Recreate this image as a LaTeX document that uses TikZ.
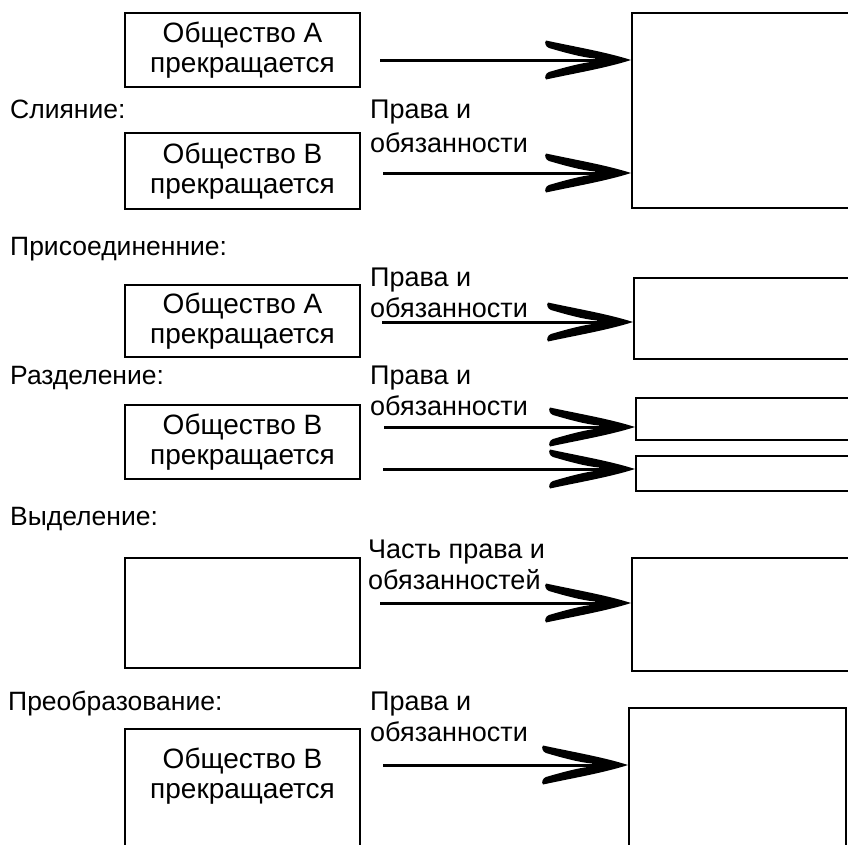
\documentclass[tikz,border=0pt]{standalone}
\usepackage{fontspec}
\setmainfont{Liberation Sans}
\usetikzlibrary{arrows.meta}
\pgfdeclarearrow{
  name=Barb,
  setup code={
    \pgfarrowssettipend{0pt}
    \pgfarrowssetlineend{-36pt}
    \pgfarrowssetbackend{-86pt}
    \pgfarrowshullpoint{0pt}{0pt}
    \pgfarrowshullpoint{-86pt}{19pt}
    \pgfarrowshullpoint{-86pt}{-19pt}
  },
  drawing code={
    \pgfpathmoveto{\pgfqpoint{0pt}{0pt}}
    \pgfpathcurveto{\pgfqpoint{-25pt}{8pt}}{\pgfqpoint{-55pt}{13pt}}{\pgfqpoint{-85pt}{19.5pt}}
    \pgfpathcurveto{\pgfqpoint{-87pt}{17pt}}{\pgfqpoint{-85pt}{13pt}}{\pgfqpoint{-82pt}{12pt}}
    \pgfpathcurveto{\pgfqpoint{-65pt}{7pt}}{\pgfqpoint{-48pt}{2.5pt}}{\pgfqpoint{-36pt}{1.5pt}}
    \pgfpathlineto{\pgfqpoint{-36pt}{-1.5pt}}
    \pgfpathcurveto{\pgfqpoint{-48pt}{-2.5pt}}{\pgfqpoint{-65pt}{-7pt}}{\pgfqpoint{-82pt}{-12pt}}
    \pgfpathcurveto{\pgfqpoint{-85pt}{-13pt}}{\pgfqpoint{-87pt}{-17pt}}{\pgfqpoint{-85pt}{-19.5pt}}
    \pgfpathcurveto{\pgfqpoint{-55pt}{-13pt}}{\pgfqpoint{-25pt}{-8pt}}{\pgfqpoint{0pt}{0pt}}
    \pgfpathclose
    \pgfusepathqfill
  }
}
\begin{document}
\begin{tikzpicture}[x=1pt,y=-1pt,
  lbox/.style={draw, line width=2.2pt, minimum width=235pt, inner sep=0pt, align=center,
    font=\fontsize{28}{30}\selectfont},
  rbox/.style={draw, line width=2.4pt, inner sep=0pt, anchor=north west, minimum width=300pt},
  sect/.style={anchor=base west, inner sep=0pt, font=\fontsize{26.5}{26.5}\selectfont},
  rl/.style={anchor=north west, inner sep=0pt, align=left, font=\fontsize{27}{31}\selectfont},
  arr/.style={line width=3pt, -{Barb}}]
\useasboundingbox[fill=white] (0,0) rectangle (848,844);

% ---------- Слияние ----------
\node[sect] (t1) at (10,118) {Слияние:};
\node[lbox, minimum height=74pt] (B1) at (242.5,50) {Общество А\\прекращается};
\node[lbox, minimum height=76pt] (B2) at (242.5,171) {Общество В\\прекращается};
\node[rbox, minimum height=195pt] (R1) at (631,12) {};
\node[rl] (L1) at (370,100) {Права и\\[3pt]обязанности};
\coordinate (s1) at (380,60);
\coordinate (s2) at (383,173);
\draw[arr] (s1) -- (s1 -| R1.west);
\draw[arr] (s2) -- (s2 -| R1.west);

% ---------- Присоединение ----------
\node[sect] (t2) at (10,255) {Присоединенние:};
\node[lbox, minimum height=72pt] (B3) at (242.5,321) {Общество А\\прекращается};
\node[rbox, minimum height=81pt] (R3) at (633,277) {};
\node[rl] (L3) at (370,268) {Права и\\обязанности};
\coordinate (s3) at (382,322);
\draw[arr] (s3) -- (s3 -| R3.west);

% ---------- Разделение ----------
\node[sect] (t3) at (10,384) {Разделение:};
\node[lbox, minimum height=74pt] (B4) at (242.5,442) {Общество В\\прекращается};
\node[rbox, minimum height=42pt] (R4a) at (635,397) {};
\node[rbox, minimum height=35pt] (R4b) at (635,455) {};
\node[rl] (L4) at (370,366) {Права и\\обязанности};
\coordinate (s4) at (384,427);
\coordinate (s5) at (383,469);
\draw[arr] (s4) -- (s4 -| R4a.west);
\draw[arr] (s5) -- (s5 -| R4b.west);

% ---------- Выделение ----------
\node[sect] (t4) at (10,525) {Выделение:};
\node[lbox, minimum height=110pt] (B5) at (242.5,613) {};
\node[rbox, minimum height=113pt] (R5) at (631,557) {};
\node[rl] (L5) at (368,540) {Часть права и\\обязанностей};
\coordinate (s6) at (380,603);
\draw[arr] (s6) -- (s6 -| R5.west);

% ---------- Преобразование ----------
\node[sect] (t5) at (8,710) {Преобразование:};
\node[lbox, minimum height=250pt] (B6) at (242.5,854) {};
\node[inner sep=0pt, align=center, font=\fontsize{28}{30}\selectfont] (B6t) at (242.5,776) {Общество В\\прекращается};
\node[rbox, minimum width=217pt, minimum height=250pt] (R6) at (628,707) {};
\node[rl] (L6) at (370,692) {Права и\\обязанности};
\coordinate (s7) at (383,765);
\draw[arr] (s7) -- (s7 -| R6.west);
\end{tikzpicture}
\end{document}
